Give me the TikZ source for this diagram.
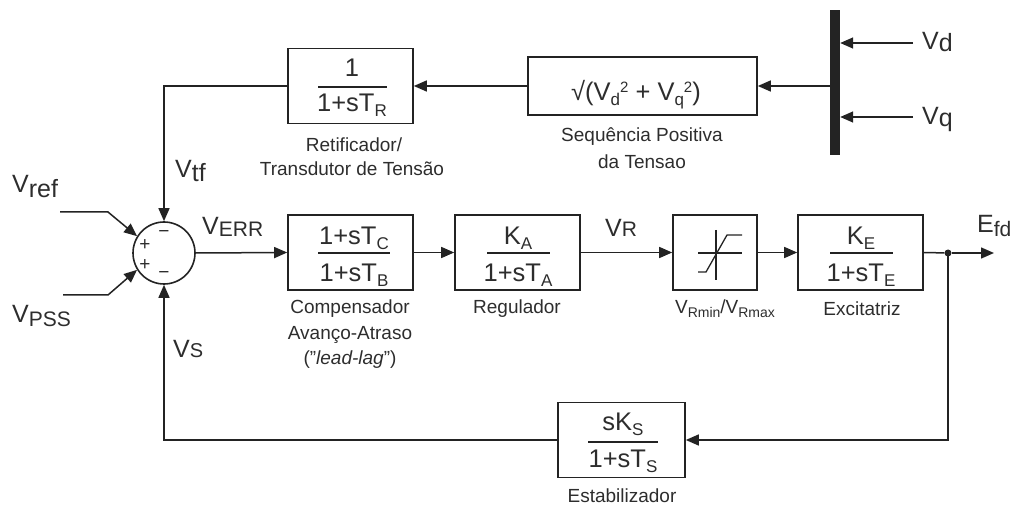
\documentclass[tikz,border=0pt]{standalone}
\usepackage{fontspec}
\setmainfont{Liberation Sans}
\usetikzlibrary{arrows.meta,calc}

\definecolor{lncol}{RGB}{35,35,35}
\definecolor{txcol}{RGB}{45,45,45}

\newcommand{\lowtx}[3]{\raisebox{-#1pt}{\fontsize{#2}{#2}\selectfont #3}}
\newcommand{\bsub}[1]{\raisebox{-5pt}{\fontsize{17}{17}\selectfont #1}}
\newcommand{\bsup}[1]{\raisebox{8pt}{\fontsize{15}{15}\selectfont #1}}

\tikzset{
  blk/.style={draw=lncol, line width=1.6pt, rectangle, inner sep=0pt},
  arr/.style={draw=lncol, line width=1.5pt, -{Triangle[length=13pt,width=11pt]}},
  wire/.style={draw=lncol, line width=1.5pt},
  rulel/.style={draw=lncol, line width=1.5pt},
  big/.style={font=\fontsize{25}{25}\selectfont, text=txcol, inner sep=0pt},
  mid/.style={font=\fontsize{25.5}{25.5}\selectfont, text=txcol, inner sep=0pt, anchor=base},
  lab/.style={font=\fontsize{19}{22}\selectfont, text=txcol, inner sep=0pt, align=center},
  sgn/.style={font=\fontsize{19}{19}\selectfont, text=txcol, inner sep=0pt},
}

\begin{document}
\begin{tikzpicture}[x=1pt,y=-1pt]
\useasboundingbox (0,0) rectangle (1021,505);

% ---- summing junction
\node[draw=lncol, line width=1.6pt, circle, minimum size=62pt, inner sep=0pt] (sum) at (164,253) {};
\node[sgn] (s1) at (164,234) {−};
\node[sgn] (s2) at (145,245) {+};
\node[sgn] (s3) at (145,265) {+};
\node[sgn] (s4) at (164,275) {−};

% ---- top row
\node[blk, minimum width=125pt, minimum height=75pt] (tr) at (350.5,86) {};
\node[mid] (trn) at (352,77) {1};
\node[mid] (trd) at (352,112) {1+sT\bsub{R}};
\draw[rulel] (318,87) -- (387,87);

\node[blk, minimum width=229pt, minimum height=58pt] (sq) at (642.5,86) {};
\node[mid] (sqt) at (636,101) {√(V\bsub{d}\bsup{2} + V\bsub{q}\bsup{2})};

\node[fill=lncol, minimum width=10pt, minimum height=145pt, inner sep=0pt] (bar) at (835,82.5) {};

\coordinate (vdin) at (913,43);
\coordinate (vqin) at (913,117);
\draw[arr] (vdin) -- (vdin -| bar.east);
\draw[arr] (vqin) -- (vqin -| bar.east);
\node[big, anchor=base west] (lvd) at (922,50) {V\lowtx{2}{25}{d}};
\node[big, anchor=base west] (lvq) at (922,125) {V\lowtx{2}{25}{q}};

\draw[arr] (sq.east -| bar.west) -- (sq.east);
\draw[arr] (sq.west) -- (tr.east);
\draw[arr] (tr.west) -| (sum.north);

\node[lab] (ltr1) at (354,145) {Retificador/};
\node[lab] (ltr2) at (352,169) {Transdutor de Tensão};
\node[lab] (lsq1) at (642,137) {Sequência Positiva};
\node[lab] (lsq2) at (642,162) {da Tensao};

% ---- main row
\node[blk, minimum width=125pt, minimum height=75pt] (ll) at (350.5,252.5) {};
\node[mid] (lln) at (354,245) {1+sT\bsub{C}};
\node[mid] (lld) at (354,282) {1+sT\bsub{B}};
\draw[rulel] (318,253) -- (390,253);

\node[blk, minimum width=125pt, minimum height=75pt] (reg) at (517.5,252.5) {};
\node[mid] (regn) at (518,245) {K\bsub{A}};
\node[mid] (regd) at (518,282) {1+sT\bsub{A}};
\draw[rulel] (487,253) -- (550,253);

\node[blk, minimum width=84pt, minimum height=75pt] (lim) at (715,252.5) {};
\draw[wire, line width=1.3pt] (698,253) -- (742,253);
\draw[wire, line width=1.3pt] (716,230) -- (716,280);
\draw[wire, line width=1.3pt] (698,272) -- (706,272) -- (727,235) -- (742,235);

\node[blk, minimum width=125pt, minimum height=75pt] (exc) at (860.5,252.5) {};
\node[mid] (excn) at (861,245) {K\bsub{E}};
\node[mid] (excd) at (861,282) {1+sT\bsub{E}};
\draw[rulel] (830,253) -- (893,253);

\node[circle, fill=lncol, minimum size=7pt, inner sep=0pt] (jn) at (948,253) {};
\coordinate (out) at (994,253);

\draw[arr] (sum.east) -- (ll.west);
\draw[arr] (ll.east) -- (reg.west);
\draw[arr] (reg.east) -- (lim.west);
\draw[arr] (lim.east) -- (exc.west);
\draw[wire] (exc.east) -- (jn);
\draw[arr] (jn) -- (out);

\node[lab] (lll1) at (350,309) {Compensador};
\node[lab] (lll2) at (350,335) {Avanço-Atraso};
\node[lab] (lll3) at (350,360) {("\textit{lead-lag}")};
\node[lab] (lreg) at (517,309) {Regulador};
\node[lab] (llim) at (725,309) {V\lowtx{4}{14}{Rmin}/V\lowtx{4}{14}{Rmax}};
\node[lab] (lexc) at (862,309) {Excitatriz};

% ---- stabilizer feedback
\node[blk, minimum width=127pt, minimum height=75pt] (stab) at (621.5,440) {};
\node[mid] (stn) at (623,430) {sK\bsub{S}};
\node[mid] (std) at (623,467) {1+sT\bsub{S}};
\draw[rulel] (588,442) -- (658,442);
\node[lab] (lstab) at (622,496) {Estabilizador};

\draw[arr] (jn.center) |- (stab.east);
\draw[arr] (stab.west) -| (sum.south);

% ---- inputs
\coordinate (vr0) at (60,212);
\coordinate (vr1) at (108,212);
\coordinate (vp0) at (63,295);
\coordinate (vp1) at (108,295);
\draw[arr] (vr0) -- (vr1) -- (sum.148);
\draw[arr] (vp0) -- (vp1) -- (sum.212);

% ---- signal labels
\node[big, anchor=base west] (lvref) at (12,193) {V\lowtx{5}{25}{ref}};
\node[big, anchor=base west] (lvpss) at (12,323) {V\lowtx{4}{21}{PSS}};
\node[big, anchor=base west] (lvtf) at (175,178) {V\lowtx{4}{25}{tf}};
\node[big, anchor=base west] (lverr) at (202,235) {V\lowtx{2}{21}{ERR}};
\node[big, anchor=base west] (lvs) at (173,357) {V\lowtx{0}{20}{S}};
\node[big, anchor=base west] (lvr) at (605,237) {V\lowtx{0}{21}{R}};
\node[big, anchor=base west] (lefd) at (977,233) {E\lowtx{4}{21}{fd}};
\end{tikzpicture}
\end{document}
